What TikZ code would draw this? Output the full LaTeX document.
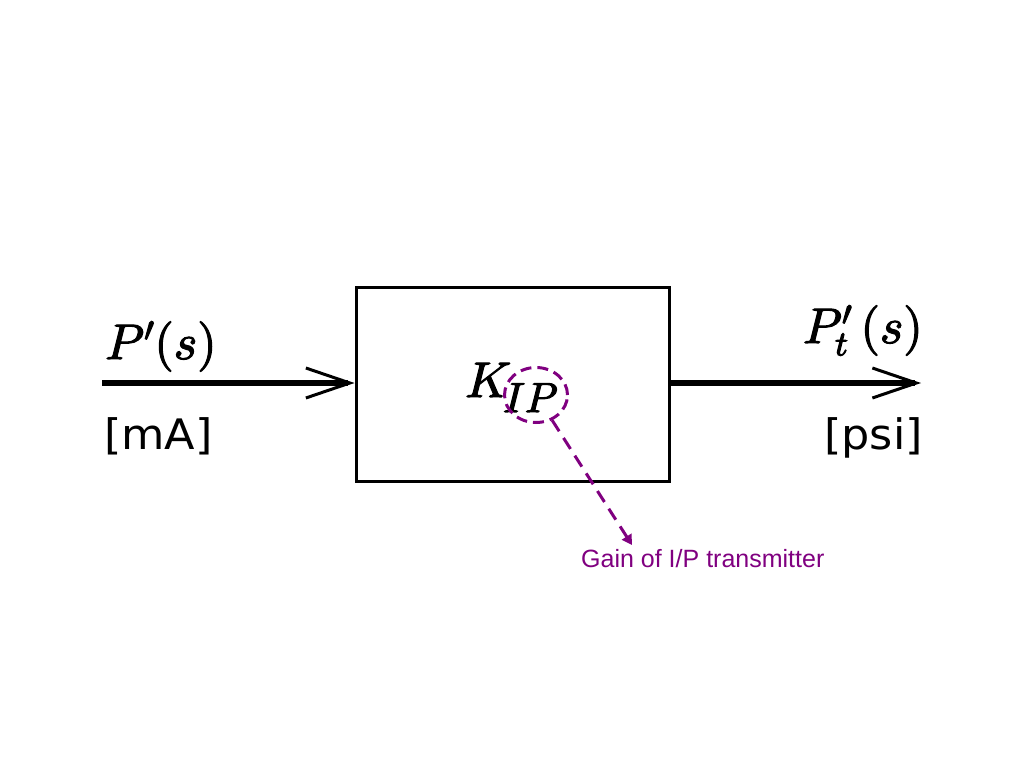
\documentclass[tikz,border=0pt]{standalone}
\usepackage{fontspec}
\DeclareFontShape{OML}{cmm}{m}{it}{<->cmmi10}{}
\DeclareFontShape{OT1}{cmr}{m}{n}{<->cmr10}{}
\DeclareFontShape{OMS}{cmsy}{m}{n}{<->cmsy10}{}
\newfontfamily\unitfont[FakeStretch=1.06]{DejaVu Sans}
\newfontfamily\notefont{Liberation Sans}
\usetikzlibrary{arrows.meta,shapes.geometric}
\definecolor{annot}{RGB}{128,0,128}
\newcommand\heavytext[1]{\special{pdf:literal direct 2 Tr 1.1 w}#1\special{pdf:literal direct 0 Tr}}
\tikzset{
  flow/.style={line width=6pt, -{Straight Barb[length=44pt,width=30pt,line width=3pt]}},
  mathlbl/.style={inner sep=0pt, font=\fontsize{50}{50}\selectfont},
  unitlbl/.style={inner sep=0pt, font=\unitfont\fontsize{42}{42}\selectfont},
  blockbox/.style={draw, line width=3pt, minimum width=313pt, minimum height=194pt, inner sep=0pt},
  ring/.style={ellipse, draw=annot, line width=3pt, dash pattern=on 11pt off 6pt, minimum width=63pt, minimum height=55pt, inner sep=0pt},
  pointer/.style={annot, line width=3pt, dash pattern=on 13pt off 8pt, -{Triangle[length=10pt,width=11pt]}},
  notelbl/.style={inner sep=0pt, text=annot, font=\notefont\fontsize{25}{25}\selectfont}
}
\begin{document}
\begin{tikzpicture}[x=1pt,y=-1pt]
\path[use as bounding box] (0,0) rectangle (1024,768);
\node[blockbox] (blk) at (512.5,384) {};
\coordinate (in) at (102,383);
\coordinate (out) at (921,383);
\draw[flow] (in) -- (in -| blk.west);
\draw[flow] (out -| blk.east) -- (out);
\node[mathlbl, anchor=base west] (pin) at (105,359) {\heavytext{$P'(s)$}};
\node[unitlbl, anchor=base west] (uin) at (104,449) {[mA]};
\node[mathlbl, anchor=base east] (pout) at (923,343) {\heavytext{$P'_t\mkern3mu(s)$}};
\node[unitlbl, anchor=base east] (uout) at (923,449) {[psi]};
\node[mathlbl, anchor=base west] (gain) at (465,397) {\heavytext{$K$\kern-8pt\raisebox{-15pt}{\fontsize{42}{42}\selectfont$IP$}}};
\node[ring] (circ) at (536,395) {};
\coordinate (tip) at (632,545);
\draw[pointer] (circ) -- (tip);
\node[notelbl, anchor=base west] (note) at (581,567) {Gain of I/P transmitter};
\end{tikzpicture}
\end{document}
